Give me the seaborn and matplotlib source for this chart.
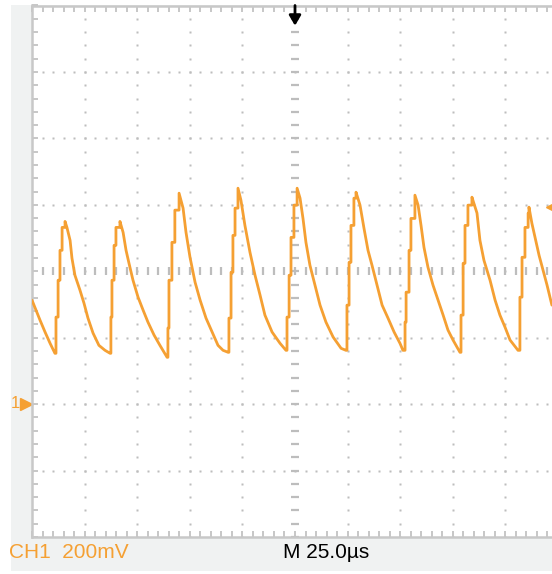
#!/usr/bin/env python3
"""
plot.py - scope capture, CH1 sawtooth-ish ripple.
"""

import numpy as np
import seaborn as sns
import matplotlib.pyplot as plt
from matplotlib.patches import Rectangle

sns.set_style("white")
plt.rcParams['font.family'] = ['Liberation Sans', 'DejaVu Sans']

# waveform vertices (time in us, level in mV, ground = 0)
t_us = [0.0, 1.9, 3.8, 6.2, 8.6, 10.9,
        11.4, 12.4, 13.3, 14.3, 15.7,
        16.6, 18.1, 19.0, 20.4, 22.8, 24.7, 26.6, 29.0, 31.8, 34.7, 37.1,
        37.5, 38.0, 39.0, 39.9, 41.8,
        43.3, 44.7, 46.1, 48.0, 50.4, 52.8, 55.1, 58.0, 60.8, 64.2,
        64.6, 65.1, 66.5, 67.9, 69.9,
        71.8, 73.2, 75.1, 77.5, 79.9, 82.7, 85.6, 88.4, 90.8, 93.2,
        93.6, 94.6, 95.5, 96.5, 97.9,
        99.3, 101.2, 103.6, 106.0, 108.4, 110.7, 114.1, 117.9, 120.7,
        121.2, 122.2, 123.1, 124.5, 126.0,
        127.4, 128.8, 130.2, 132.1, 134.5, 136.9, 139.7, 143.1, 146.9, 149.2,
        149.7, 150.7, 151.6, 153.0, 154.0,
        155.9, 157.8, 159.7, 161.6, 164.0, 166.4, 169.2, 172.1, 174.9, 176.3,
        177.3, 177.8, 179.2, 180.1, 182.0,
        183.5, 184.9, 186.3, 188.2, 190.6, 193.0, 195.4, 197.7, 200.1, 203.4,
        203.9, 204.9, 205.8, 207.2, 209.1,
        211.5, 212.9, 214.8, 217.7, 220.1, 222.4, 224.8, 227.2, 231.0,
        231.9, 232.9, 234.3, 235.8, 236.2,
        237.6, 239.1, 241.0, 242.9, 244.8, 247.1]
v_mv = [313, 283, 253, 217, 183, 153,
        262, 373, 463, 532, 550,
        532, 493, 439, 388, 343, 304, 259, 214, 177, 162, 153,
        262, 373, 478, 532, 550,
        517, 463, 424, 373, 322, 283, 247, 208, 177, 141,
        229, 373, 487, 584, 635,
        590, 517, 442, 367, 313, 259, 217, 177, 162, 156,
        259, 397, 508, 590, 650,
        614, 538, 457, 388, 328, 268, 217, 183, 162,
        262, 388, 502, 599, 650,
        620, 559, 487, 418, 358, 298, 247, 202, 168, 162,
        298, 427, 538, 620, 638,
        599, 529, 463, 418, 358, 298, 259, 217, 183, 162,
        247, 337, 463, 559, 629,
        599, 538, 472, 412, 358, 313, 268, 223, 193, 156,
        268, 424, 538, 599, 623,
        575, 493, 433, 373, 313, 268, 232, 193, 162,
        322, 442, 532, 575, 593,
        544, 502, 448, 403, 358, 298]

ch_label = "CH1  200mV"
time_label = "M 25.0\u00b5s"
trig_level_mv = 592

x_div, y_div = 25.0, 200.0
x_min, x_max = 0.0, 250.0
y_min, y_max = -400.0, 1200.0

orange = "#f5a033"
grid_c = "#bdbdbd"
panel_c = "#f0f2f2"

# rising edges are drawn as sample steps, the decays as straight runs
trace_t, trace_v = [t_us[0]], [v_mv[0]]
for i in range(1, len(t_us)):
    if v_mv[i] > v_mv[i-1]:
        trace_t.append(t_us[i]); trace_v.append(v_mv[i-1])
    trace_t.append(t_us[i]); trace_v.append(v_mv[i])

fig = plt.figure(figsize=(5.52, 5.74), dpi=100, facecolor="white")
fig.patches.append(Rectangle((11/552, 3/574), 1 - 11/552, 566/574, transform=fig.transFigure,
                             facecolor=panel_c, edgecolor="none", zorder=-5))
ax = fig.add_axes([32/552, 37/574, 526/552, 531.5/574])
ax.set_zorder(2)
ax.set_facecolor("white")
ax.set_xlim(x_min, x_max); ax.set_ylim(y_min, y_max)

# dotted graticule
xs_minor = np.arange(x_min, x_max + 0.1, x_div/5)
ys_minor = np.arange(y_min, y_max + 0.1, y_div/5)
x_center = (x_min + x_max)/2; y_center = (y_min + y_max)/2
for yv in np.arange(y_min + y_div, y_max, y_div):
    if yv == y_center: continue
    ax.plot(xs_minor, np.full_like(xs_minor, yv), ls="none", marker="s", ms=1.6, mec="none", color=grid_c, zorder=1)
for xv in np.arange(x_min + x_div, x_max, x_div):
    if xv == x_center: continue
    ax.plot(np.full_like(ys_minor, xv), ys_minor, ls="none", marker="s", ms=1.6, mec="none", color=grid_c, zorder=1)
# centre axes with tick dashes
ax.plot(xs_minor, np.full_like(xs_minor, y_center), ls="none", marker="|", ms=6, mew=1.6, color=grid_c, zorder=1)
ax.plot(np.full_like(ys_minor, x_center), ys_minor, ls="none", marker="_", ms=6, mew=1.6, color=grid_c, zorder=1)

sns.lineplot(x=trace_t, y=trace_v, ax=ax, sort=False, estimator=None, color=orange, lw=2.0, zorder=3)

ax.set_xticks(xs_minor); ax.set_yticks(ys_minor)
ax.set_xticklabels([]); ax.set_yticklabels([])
ax.tick_params(direction="in", length=4, width=1.2, color=grid_c, top=True, bottom=True, left=True, right=False)
ax.set_xlabel(""); ax.set_ylabel("")
for s in ax.spines.values():
    s.set_color("#c8c8c8"); s.set_linewidth(1.8)

# trigger position arrow, ground marker, trigger level marker
ax.annotate("", xy=(x_center, 0.962), xytext=(x_center, 1.0), xycoords=("data", "axes fraction"),
            arrowprops=dict(arrowstyle="-|>,head_length=0.6,head_width=0.35", color="black", lw=2,
                            shrinkA=0, shrinkB=0), annotation_clip=False)
ax.plot([-0.012], [0], marker=">", ms=9, color=orange, transform=ax.get_yaxis_transform(), clip_on=False)
fig.text(11/552, (574-404)/574, "1", color=orange, fontsize=12, va="center", ha="left")
ax.plot([0.988], [trig_level_mv], marker="<", ms=9, color=orange, transform=ax.get_yaxis_transform(), clip_on=False)

fig.text(9/552, (574-552)/574, ch_label, color=orange, fontsize=15, va="center", ha="left")
fig.text(283/552, (574-552)/574, time_label, color="black", fontsize=15, va="center", ha="left")

fig.savefig("out.png", dpi=100, facecolor="white")
